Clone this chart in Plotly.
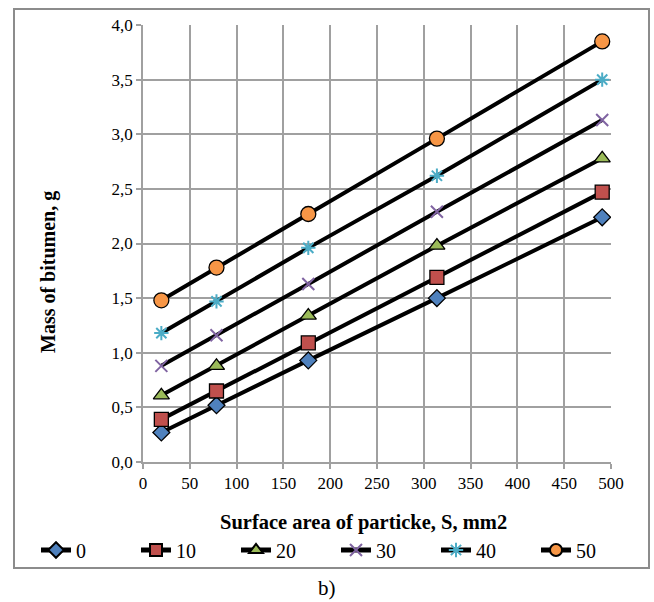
import plotly.graph_objects as go

x_area = [19.6, 78.5, 176.6, 314.0, 490.6]
series_names = ["0", "10", "20", "30", "40", "50"]
s0 = [0.27, 0.52, 0.93, 1.50, 2.24]
s10 = [0.39, 0.65, 1.09, 1.69, 2.47]
s20 = [0.61, 0.88, 1.34, 1.98, 2.78]
s30 = [0.88, 1.16, 1.63, 2.29, 3.13]
s40 = [1.18, 1.47, 1.96, 2.62, 3.50]
s50 = [1.48, 1.78, 2.27, 2.96, 3.85]
x_ticks = [0, 50, 100, 150, 200, 250, 300, 350, 400, 450, 500]
y_ticks = [0.0, 0.5, 1.0, 1.5, 2.0, 2.5, 3.0, 3.5, 4.0]

FAM = "Liberation Serif, Times New Roman, serif"

styles = [
    dict(symbol="diamond", color="#4f81bd", size=13, line=dict(color="black", width=1.3)),
    dict(symbol="square", color="#c0504d", size=14, line=dict(color="black", width=1.3)),
    dict(symbol="triangle-up", color="#9bbb59", size=14, line=dict(color="black", width=1.3)),
    dict(symbol="x-thin-open", color="#8064a2", size=12, line=dict(color="#8064a2", width=2)),
    dict(symbol="asterisk-open", color="#4bacc6", size=12, line=dict(color="#4bacc6", width=2)),
    dict(symbol="circle", color="#f79646", size=15, line=dict(color="black", width=1.3)),
]

fig = go.Figure()
for name, ys, st in zip(series_names, [s0, s10, s20, s30, s40, s50], styles):
    fig.add_trace(go.Scatter(
        x=x_area, y=ys, name=name, mode="lines+markers",
        line=dict(color="black", width=4),
        marker=st,
    ))

L, R, T, B = 143, 611, 25, 462
W, H = 654, 602
pw, ph = R - L, B - T

def px(p):
    return (p - L) / pw

def py(p):
    return (B - p) / ph

grid = "#a0a0a0"
fig.update_layout(
    width=W, height=H,
    margin=dict(l=L, r=W - R, t=T, b=H - B),
    paper_bgcolor="white", plot_bgcolor="white",
    separators=",.",
    font=dict(family=FAM, color="black", size=17),
    showlegend=True,
    legend=dict(orientation="h", x=px(36), xanchor="left", y=py(550), yanchor="middle",
                font=dict(family=FAM, size=20), entrywidth=55, entrywidthmode="pixels",
                itemwidth=30, itemsizing="constant", tracegroupgap=0,
                bgcolor="rgba(0,0,0,0)"),
    xaxis=dict(range=[0, 500], tickvals=x_ticks, showgrid=True, gridcolor=grid, gridwidth=1.5,
               showline=True, linecolor=grid, linewidth=1.5, ticks="outside", ticklen=5,
               tickcolor=grid, tickwidth=1.5, zeroline=False,
               tickfont=dict(family=FAM, size=17)),
    yaxis=dict(range=[0, 4.0], tickvals=y_ticks, tickformat=".1f", showgrid=True, gridcolor=grid,
               gridwidth=1.5, showline=True, linecolor=grid, linewidth=1.5, ticks="outside",
               ticklen=5, tickcolor=grid, tickwidth=1.5, zeroline=False,
               tickfont=dict(family=FAM, size=17)),
    shapes=[dict(type="rect", xref="paper", yref="paper",
                 x0=px(14), x1=px(649), y0=py(568), y1=py(9),
                 line=dict(color="#8c8c8c", width=2), layer="below")],
    annotations=[
        dict(text="<b>Surface area of particke, S, mm2</b>", xref="paper", yref="paper",
             x=px(363), y=py(522), xanchor="center", yanchor="middle", showarrow=False,
             font=dict(family=FAM, size=20.5)),
        dict(text="<b>Mass of bitumen, g</b>", xref="paper", yref="paper", textangle=-90,
             x=px(48), y=py(272), xanchor="center", yanchor="middle", showarrow=False,
             font=dict(family=FAM, size=20)),
        dict(text="b)", xref="paper", yref="paper", x=px(327), y=py(588),
             xanchor="center", yanchor="middle", showarrow=False,
             font=dict(family=FAM, size=21)),
    ],
)
fig.write_html("out.html")
